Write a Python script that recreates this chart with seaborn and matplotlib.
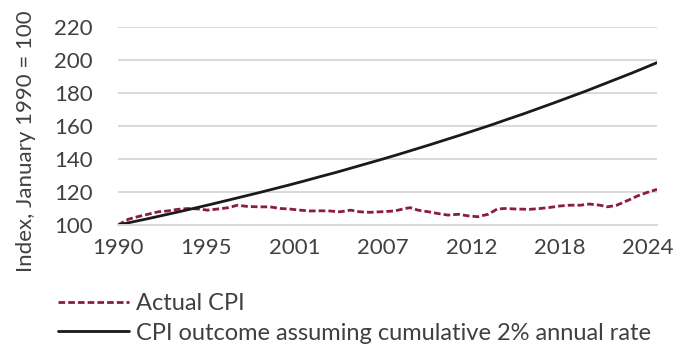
import matplotlib
matplotlib.use("Agg")
import matplotlib.pyplot as plt
import seaborn as sns
import pandas as pd

# Actual CPI index (Jan 1990 = 100), sampled by months since Jan 1990
cpi_months = [0, 8, 15, 23, 31, 38, 46, 54, 62, 69, 77, 85, 92, 100, 109, 117,
              125, 132, 140, 148, 156, 163, 171, 179, 186, 194, 202, 213, 221,
              225, 231, 239, 246, 254, 262, 269, 277, 285, 292, 298, 306, 317,
              325, 333, 340, 348, 356, 363, 371, 377, 384, 392, 400, 407, 415]
cpi_values = [100.0, 103.5, 105.0, 106.5, 108.0, 108.5, 109.5, 110.0, 109.7,
              109.0, 109.7, 110.5, 112.0, 111.2, 111.0, 111.0, 110.0, 109.7,
              109.0, 108.5, 108.6, 108.5, 108.0, 109.0, 108.0, 107.7, 108.0,
              108.5, 110.0, 110.5, 109.0, 108.0, 107.0, 106.0, 106.5, 105.6,
              105.0, 106.5, 109.7, 110.0, 109.7, 109.5, 110.0, 110.7, 111.5,
              112.0, 112.0, 112.7, 112.0, 111.0, 112.0, 114.7, 117.6, 119.6,
              121.6]

# Index path compounding at 2% a year, one value per January plus the last month
path_months = [0, 12, 24, 36, 48, 60, 72, 84, 96, 108, 120, 132, 144, 156, 168,
               180, 192, 204, 216, 228, 240, 252, 264, 276, 288, 300, 312, 324,
               336, 348, 360, 372, 384, 396, 408, 415]
path_values = [100.0, 102.0, 104.0, 106.1, 108.2, 110.4, 112.6, 114.9, 117.2,
               119.5, 121.9, 124.3, 126.8, 129.4, 131.9, 134.6, 137.3, 140.0,
               142.8, 145.7, 148.6, 151.6, 154.6, 157.7, 160.8, 164.1, 167.3,
               170.7, 174.1, 177.6, 181.1, 184.8, 188.5, 192.2, 196.1, 198.4]

tick_months = [0, 68, 136, 204, 272, 340, 408]
tick_labels = ["1990", "1995", "2001", "2007", "2012", "2018", "2024"]
y_ticks = [100, 120, 140, 160, 180, 200, 220]

label_cpi = "Actual CPI"
label_path = "CPI outcome assuming cumulative 2% annual rate"

sns.set_theme(style="white")
plt.rcParams["font.family"] = ["Lato", "DejaVu Sans"]
text_color = "#404040"
fs = 16

cpi_df = pd.DataFrame({"month": cpi_months, "index": cpi_values})
path_df = pd.DataFrame({"month": path_months, "index": path_values})

fig = plt.figure(figsize=(6.78, 3.48), dpi=100)
ax = fig.add_axes([118 / 678, 1 - 225 / 348, (657 - 118) / 678, (225 - 27) / 348])

sns.lineplot(data=cpi_df, x="month", y="index", ax=ax, color="#8a1c3c",
             linewidth=2.0, label=label_cpi)
ax.lines[-1].set_dashes((2.4, 1.1))
sns.lineplot(data=path_df, x="month", y="index", ax=ax, color="#1a1a1a",
             linewidth=2.0, label=label_path)

ax.set_xlim(0, 415)
ax.set_ylim(100, 220)
ax.set_xticks(tick_months)
ax.set_xticklabels(tick_labels)
ax.set_yticks(y_ticks)
ax.set_xlabel("")
ax.set_ylabel("Index, January 1990 = 100", fontsize=fs, color=text_color)
ax.yaxis.set_label_coords(-82 / 539, 0.425)

ax.grid(axis="y", color="#d9d9d9", linewidth=1.4)
ax.grid(axis="x", visible=False)
for side in ["top", "right", "left"]:
    ax.spines[side].set_visible(False)
ax.spines["bottom"].set_color("#d9d9d9")
ax.spines["bottom"].set_linewidth(1.4)
ax.set_axisbelow(True)
ax.tick_params(axis="y", length=0, pad=18, labelsize=fs, colors=text_color)
ax.tick_params(axis="x", length=0, pad=9, labelsize=fs, colors=text_color)

handles, labels = ax.get_legend_handles_labels()
ax.get_legend().remove()
fig.legend(handles, labels, loc="upper left",
           bbox_to_anchor=(58 / 678, 1 - 293 / 348), frameon=False,
           fontsize=17, handlelength=3.0, handletextpad=0.3,
           labelspacing=0.36, borderpad=0, borderaxespad=0,
           labelcolor=text_color)

fig.savefig("out.png", dpi=100)
